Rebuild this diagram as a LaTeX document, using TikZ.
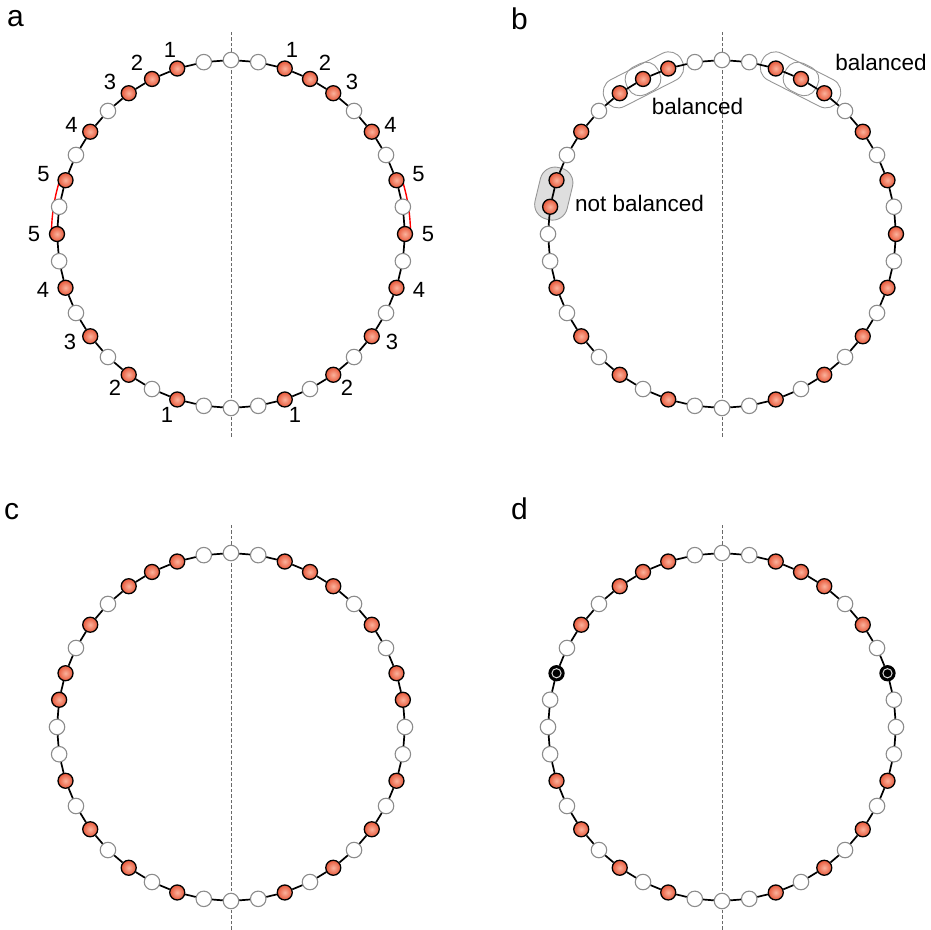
\documentclass[tikz,border=0pt]{standalone}
\usepackage{fontspec}
\setmainfont{Liberation Sans}
\definecolor{beadout}{RGB}{232,88,58}
\definecolor{beadin}{RGB}{250,178,156}
\definecolor{wline}{RGB}{140,140,140}
\definecolor{grpline}{RGB}{150,150,150}
\definecolor{axiscol}{RGB}{105,105,105}
\definecolor{blobfill}{RGB}{222,222,222}
\tikzset{
  obead/.style={circle, draw=black, line width=1.3pt, inner sep=0pt, minimum size=15pt, inner color=beadin, outer color=beadout},
  wbead/.style={circle, draw=wline, line width=1.1pt, fill=white, inner sep=0pt, minimum size=15.5pt},
  kbead/.style={circle, draw=black, fill=black, line width=1.3pt, inner sep=0pt, minimum size=15pt},
  chain/.style={line width=1.7pt, black},
  axisline/.style={dash pattern=on 3.5pt off 2pt, line width=1pt, axiscol},
  redline/.style={red, line width=1.4pt},
  numlab/.style={font=\fontsize{22}{26}\selectfont, inner sep=0pt},
  txtlab/.style={font=\fontsize{22.5}{27}\selectfont, inner sep=0pt, anchor=base},
  panlab/.style={font=\fontsize{30}{36}\selectfont, inner sep=0pt, anchor=base west},
  grp/.style={draw=grpline, line width=0.9pt, rounded corners=14pt, inner sep=0pt},
}
\begin{document}
\begin{tikzpicture}[x=1pt,y=1pt]
\useasboundingbox (0,0) rectangle (930,930);

% ---------------- panel a ----------------
\node[panlab] (pa) at (7,903) {a};
\begin{scope}[shift={(231,696)}]
  \draw[axisline] (0,-203) -- (0,202);
  \draw[redline] (18:179.5) arc[start angle=18, end angle=0, radius=179.5];
  \draw[redline] (162:179.5) arc[start angle=162, end angle=180, radius=179.5];
  \foreach \k in {0,1,5,7,9,11,13,15,17,19,20,21,23,25,27,29,31,33,35,39}
    \node[wbead] (a\k) at ({90-9*\k}:174) {};
  \foreach \k in {2,3,4,6,8,10,12,14,16,18,22,24,26,28,30,32,34,36,37,38}
    \node[obead] (a\k) at ({90-9*\k}:174) {};
  \foreach \k [evaluate=\k as \n using {int(mod(\k+1,40))}] in {0,...,39}
    \draw[chain] (a\k) -- (a\n);
  \foreach \x/\y/\t [count=\i] in {61/184/1, 94/171/2, 121/152/3, 159.5/109/4, 187.5/60/5, 197/0/5, 188/-56/4, 161/-108/3, 116/-154/2, 64/-181/1}{
    \node[numlab] (lr\i) at (\x,\y) {\t};
    \node[numlab] (ll\i) at (-\x,\y) {\t};
  }
\end{scope}

% ---------------- panel b ----------------
\node[panlab] (pb) at (511,900) {b};
\begin{scope}[shift={(722,696)}]
  \draw[axisline] (0,-203) -- (0,202);
  \node[grp, fill=blobfill, minimum width=53pt, minimum height=33pt, rotate=76.5, rounded corners=15pt] (gnb) at (166.5:173) {};
  \node[grp, minimum width=86pt, minimum height=30pt, rotate=27] (gl1) at (117:173) {};
  \node[grp, minimum width=35pt, minimum height=30pt, rotate=27, rounded corners=13pt] (gl2) at (117:174) {};
  \node[grp, minimum width=86pt, minimum height=30pt, rotate=-27] (gr1) at (63:173) {};
  \node[grp, minimum width=35pt, minimum height=30pt, rotate=-27, rounded corners=13pt] (gr2) at (63:174) {};
  \foreach \k in {0,1,5,7,9,11,13,15,17,19,20,21,23,25,27,29,30,33,35,39}
    \node[wbead] (b\k) at ({90-9*\k}:174) {};
  \foreach \k in {2,3,4,6,8,10,12,14,16,18,22,24,26,28,31,32,34,36,37,38}
    \node[obead] (b\k) at ({90-9*\k}:174) {};
  \foreach \k [evaluate=\k as \n using {int(mod(\k+1,40))}] in {0,...,39}
    \draw[chain] (b\k) -- (b\n);
\end{scope}
\node[txtlab] (tb1) at (697.5,815) {balanced};
\node[txtlab] (tb2) at (881,859.4) {balanced};
\node[txtlab] (tnb) at (639.5,718) {not balanced};

% ---------------- panel c ----------------
\node[panlab] (pc) at (4,410) {c};
\begin{scope}[shift={(231,203)}]
  \draw[axisline] (0,-203) -- (0,202);
  \foreach \k in {0,1,5,7,10,11,13,15,17,19,20,21,23,25,27,29,30,33,35,39}
    \node[wbead] (c\k) at ({90-9*\k}:174) {};
  \foreach \k in {2,3,4,6,8,9,12,14,16,18,22,24,26,28,31,32,34,36,37,38}
    \node[obead] (c\k) at ({90-9*\k}:174) {};
  \foreach \k [evaluate=\k as \n using {int(mod(\k+1,40))}] in {0,...,39}
    \draw[chain] (c\k) -- (c\n);
\end{scope}

% ---------------- panel d ----------------
\node[panlab] (pd) at (511,410) {d};
\begin{scope}[shift={(722,203)}]
  \draw[axisline] (0,-203) -- (0,202);
  \foreach \k in {0,1,5,7,9,10,11,13,15,17,19,20,21,23,25,27,29,30,31,33,35,39}
    \node[wbead] (d\k) at ({90-9*\k}:174) {};
  \foreach \k in {2,3,4,6,12,14,16,18,22,24,26,28,34,36,37,38}
    \node[obead] (d\k) at ({90-9*\k}:174) {};
  \foreach \k in {8,32}{
    \node[kbead] (d\k) at ({90-9*\k}:174) {};
    \draw[white!70!gray, line width=1pt] (d\k.center) circle[radius=4.6pt];
  }
  \foreach \k [evaluate=\k as \n using {int(mod(\k+1,40))}] in {0,...,39}
    \draw[chain] (d\k) -- (d\n);
\end{scope}
\end{tikzpicture}
\end{document}
